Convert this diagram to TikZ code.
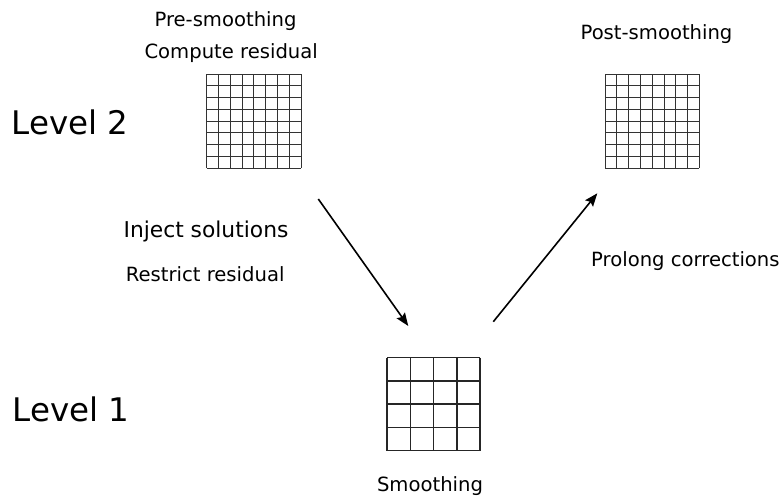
\documentclass[tikz,border=0pt]{standalone}
\usepackage{fontspec}
\setmainfont{DejaVu Sans}
\usetikzlibrary{arrows.meta}
\begin{document}
\begin{tikzpicture}[x=1pt,y=-1pt,
  lbl/.style={inner sep=0pt,anchor=base,font=\fontsize{19.6}{23}\selectfont},
  biglbl/.style={inner sep=0pt,anchor=base west,font=\fontsize{32.5}{38}\selectfont},
  midlbl/.style={inner sep=0pt,anchor=base,font=\fontsize{21.8}{26}\selectfont},
  fine/.style={line width=0.9pt,black!80},
  coarse/.style={line width=1.5pt,black!85},
  flow/.style={line width=1.6pt,-{Stealth[length=13pt,width=10pt,inset=2pt]}}]
\useasboundingbox (0,0) rectangle (783,498);
% fine grid level 2 (left)
\foreach \i in {0,...,8} {
  \draw[fine] (206.7+\i*11.7875,74) -- (206.7+\i*11.7875,168.3);
  \draw[fine] (206.7,74+\i*11.7875) -- (301,74+\i*11.7875);
}
% fine grid level 2 (right)
\foreach \i in {0,...,8} {
  \draw[fine] (605+\i*11.7875,74) -- (605+\i*11.7875,168.3);
  \draw[fine] (605,74+\i*11.7875) -- (699.3,74+\i*11.7875);
}
% coarse grid level 1
\foreach \i in {0,...,4} {
  \draw[coarse] (387+\i*23.3,357.5) -- (387+\i*23.3,450.7);
  \draw[coarse] (387,357.5+\i*23.3) -- (480.2,357.5+\i*23.3);
}
% labels
\node[biglbl] (lv2) at (11.5,134.3) {Level 2};
\node[biglbl] (lv1) at (12.5,421.7) {Level 1};
\node[lbl] (pre) at (225.5,26) {Pre-smoothing};
\node[lbl] (comp) at (231.2,58.8) {Compute residual};
\node[lbl] (post) at (656.5,39.3) {Post-smoothing};
\node[midlbl] (inj) at (206,237.3) {Inject solutions};
\node[lbl] (restr) at (205.2,281.5) {Restrict residual};
\node[lbl] (prol) at (685.4,266.7) {Prolong corrections};
\node[lbl] (smooth) at (430,491.7) {Smoothing};
% arrows
\coordinate (a1s) at (318.3,199);
\coordinate (a1e) at (408.3,326);
\coordinate (a2s) at (493.3,321.7);
\coordinate (a2e) at (597.3,193.3);
\draw[flow] (a1s) -- (a1e);
\draw[flow] (a2s) -- (a2e);
\end{tikzpicture}
\end{document}
